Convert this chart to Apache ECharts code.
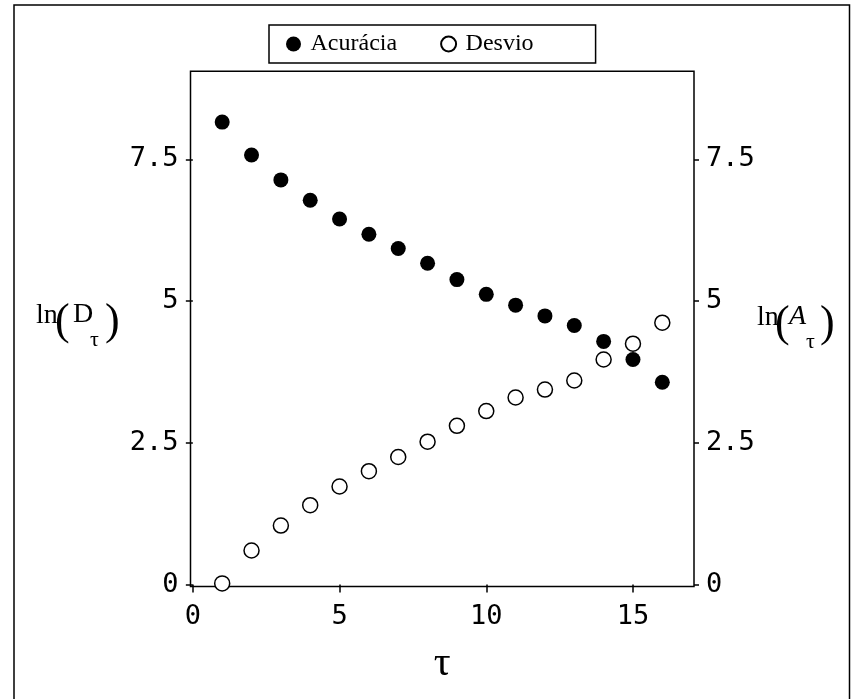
<!DOCTYPE html>
<html>
<head>
<meta charset="utf-8">
<script src="https://cdn.jsdelivr.net/npm/echarts@6/dist/echarts.min.js"></script>
<style>
  html, body { margin: 0; padding: 0; background: #fff; }
  #chart { width: 851px; height: 699px; }
</style>
</head>
<body>
<div id="chart"></div>
<script>
// dados
var tau = [1, 2, 3, 4, 5, 6, 7, 8, 9, 10, 11, 12, 13, 14, 15, 16];
var acuracia = [8.16, 7.58, 7.14, 6.78, 6.45, 6.18, 5.93, 5.67, 5.38, 5.12, 4.93, 4.74, 4.57, 4.29, 3.97, 3.57];
var desvio = [0.02, 0.60, 1.04, 1.40, 1.73, 2.00, 2.25, 2.52, 2.80, 3.06, 3.30, 3.44, 3.60, 3.97, 4.25, 4.62];
var xTicks = [0, 5, 10, 15];
var yTicks = [0, 2.5, 5, 7.5];

var myChart = echarts.init(document.getElementById('chart'));

function pares(ys) {
  return tau.map(function (t, i) { return [t, ys[i]]; });
}

var tickFont = { fontFamily: 'DejaVu Sans Mono', fontSize: 27, color: '#000' };

function eixoY(pos, margin, tickLen) {
  return {
    type: 'value',
    position: pos,
    min: -0.035,
    max: 9.056,
    axisLine: { show: false },
    axisTick: { show: true, length: tickLen, customValues: yTicks, lineStyle: { color: '#000', width: 1.5 } },
    axisLabel: Object.assign({ margin: margin, customValues: yTicks }, tickFont),
    splitLine: { show: false }
  };
}

// pedaços do título dos eixos y: ln(D_tau) e ln(A_tau)
function txt(t, x, y, size, italic) {
  return {
    type: 'text', x: x, y: y,
    style: {
      text: t, fontFamily: 'Liberation Serif', fontSize: size,
      fontStyle: italic ? 'italic' : 'normal', fill: '#000',
      align: 'left', verticalAlign: 'middle',
      textAlign: 'left', textVerticalAlign: 'middle'
    }
  };
}

var option = {
  animation: false,
  backgroundColor: '#fff',
  grid: {
    left: 190.5, top: 71.3, width: 503.5, height: 515.2,
    show: true, borderColor: '#000', borderWidth: 1.5, backgroundColor: 'transparent'
  },
  legend: {
    left: 269, top: 25,
    padding: [7, 62, 7, 17],
    borderColor: '#000', borderWidth: 1.5,
    itemWidth: 24, itemHeight: 15, itemGap: 43,
    icon: 'circle',
    textStyle: { fontFamily: 'Liberation Serif', fontSize: 24, color: '#000' },
    data: ['Acurácia', 'Desvio']
  },
  xAxis: {
    type: 'value',
    min: -0.08,
    max: 17.08,
    axisLine: { show: false },
    axisTick: { show: true, length: 8, customValues: xTicks, lineStyle: { color: '#000', width: 1.5 } },
    axisLabel: Object.assign({ margin: 17, customValues: xTicks }, tickFont),
    splitLine: { show: false },
    name: 'τ',
    nameLocation: 'middle',
    nameGap: 56,
    nameTextStyle: { fontFamily: 'Liberation Serif', fontSize: 42, color: '#000' }
  },
  yAxis: [eixoY('left', 12, 7), eixoY('right', 12, 5)],
  series: [
    {
      name: 'Acurácia',
      type: 'scatter',
      symbol: 'circle',
      symbolSize: 15,
      itemStyle: { color: '#000', opacity: 1 },
      data: pares(acuracia)
    },
    {
      name: 'Desvio',
      type: 'scatter',
      symbol: 'circle',
      symbolSize: 15,
      itemStyle: { color: '#fff', borderColor: '#000', borderWidth: 1.5, opacity: 1 },
      data: pares(desvio)
    }
  ],
  graphic: [
    // moldura externa
    { type: 'polyline', shape: { points: [[14, 699], [14, 5], [849.5, 5], [849.5, 699]] },
      style: { stroke: '#000', lineWidth: 1.5, fill: null } },
    txt('ln', 36, 316, 28), txt('(', 55, 322, 44), txt('D', 73, 315, 28),
    txt('τ', 90, 340, 22), txt(')', 105, 322, 44),
    txt('ln', 757, 318, 28), txt('(', 775, 324, 44), txt('A', 789, 317, 28, true),
    txt('τ', 806, 342, 22), txt(')', 820, 324, 44)
  ]
};

myChart.setOption(option);
window.onresize = myChart.resize;
</script>
</body>
</html>
